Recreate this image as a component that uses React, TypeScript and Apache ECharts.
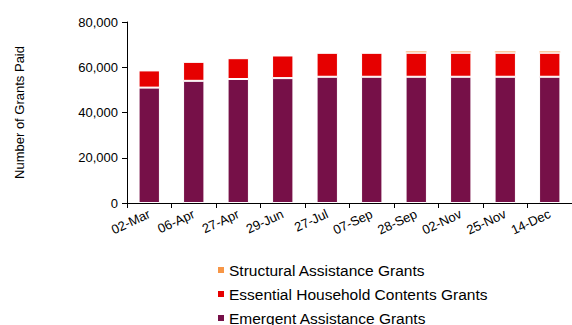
import React, { useEffect, useRef } from "react";
import * as echarts from "echarts";

const categories = ["02-Mar", "06-Apr", "27-Apr", "29-Jun", "27-Jul", "07-Sep", "28-Sep", "02-Nov", "25-Nov", "14-Dec"];
const emergent = [51000, 54000, 54800, 55200, 55800, 55800, 55800, 55800, 55800, 55800];
const essential = [7600, 8400, 9200, 10000, 10600, 10600, 10600, 10600, 10600, 10600];
const structural = [0, 0, 0, 0, 0, 0, 800, 800, 800, 800];
const seriesNames = ["Emergent Assistance Grants", "Essential Household Contents Grants", "Structural Assistance Grants"];
const yTicks = { min: 0, max: 80000, interval: 20000 };

export default function App() {
  const ref = useRef<HTMLDivElement>(null);
  useEffect(() => {
    const chart = echarts.init(ref.current!, undefined, { renderer: "svg" });
    const font = "Liberation Sans, Arial, sans-serif";
    chart.setOption({
      animation: false,
      textStyle: { fontFamily: font, color: "#000" },
      grid: { left: 127, top: 22, width: 456, height: 181 },
      legend: {
        orient: "vertical",
        left: 216,
        top: 262,
        height: 70,
        padding: 0,
        itemGap: 8,
        itemWidth: 8,
        itemHeight: 8,
        icon: "rect",
        data: [seriesNames[2], seriesNames[1], seriesNames[0]],
        textStyle: { fontFamily: font, fontSize: 15.5, color: "#000", padding: [0, 0, 0, -1] },
      },
      xAxis: {
        type: "category",
        data: categories,
        axisLine: { lineStyle: { color: "#000", width: 1 } },
        axisTick: { show: true, length: 5, inside: false, alignWithLabel: false, lineStyle: { color: "#000" } },
        axisLabel: { rotate: 25, fontSize: 13, color: "#000", margin: 10, fontFamily: font, interval: 0 },
      },
      yAxis: {
        type: "value",
        min: yTicks.min,
        max: yTicks.max,
        interval: yTicks.interval,
        name: "Number of Grants Paid",
        nameLocation: "middle",
        nameGap: 101,
        nameRotate: 90,
        nameTextStyle: { fontSize: 13, color: "#000", fontFamily: font },
        axisLine: { show: true, lineStyle: { color: "#000", width: 1 } },
        axisTick: { show: true, length: 5, lineStyle: { color: "#000" } },
        axisLabel: {
          fontSize: 13,
          color: "#000",
          margin: 9,
          fontFamily: font,
          formatter: (v: number) => v.toLocaleString("en-US"),
        },
        splitLine: { show: false },
      },
      series: [
        {
          name: seriesNames[0],
          type: "bar",
          stack: "total",
          data: emergent,
          barCategoryGap: "52%",
          itemStyle: { color: "#761048", borderColor: "#ffffff", borderWidth: 1 },
        },
        {
          name: seriesNames[1],
          type: "bar",
          stack: "total",
          data: essential,
          itemStyle: { color: "#E60000", borderColor: "#ffffff", borderWidth: 1 },
        },
        {
          name: seriesNames[2],
          type: "bar",
          stack: "total",
          data: structural,
          itemStyle: { color: "#F79646", borderColor: "#ffffff", borderWidth: 0.5 },
        },
      ],
    });
    return () => chart.dispose();
  }, []);
  return <div ref={ref} style={{ width: 572, height: 325, position: "absolute", left: 0, top: 0 }} />;
}
